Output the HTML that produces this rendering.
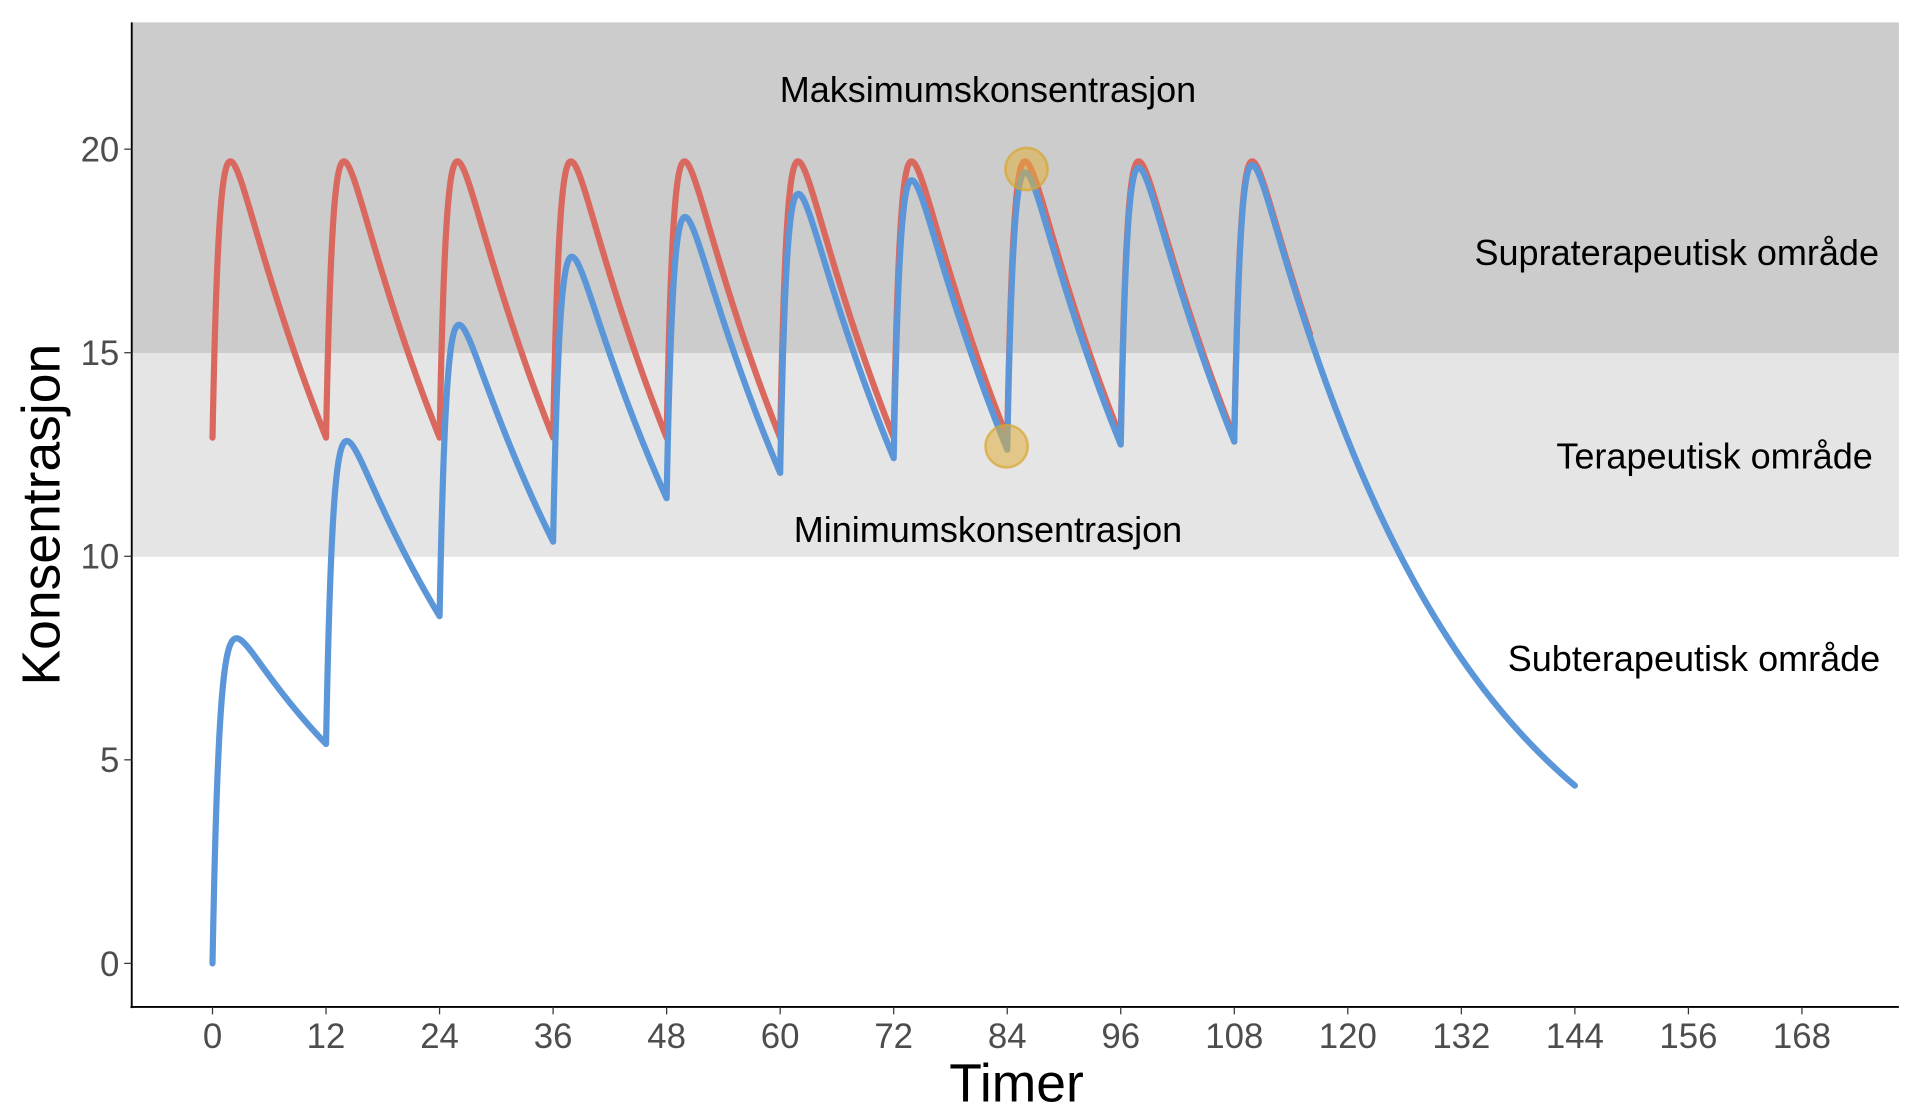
<!DOCTYPE html>
<html><head><meta charset="utf-8"><style>html,body{margin:0;padding:0;background:#fff;}svg{display:block}</style></head>
<body>
<svg id="s" width="1920" height="1120" viewBox="0 0 1545 901" preserveAspectRatio="none" xmlns="http://www.w3.org/2000/svg" font-family="Liberation Sans, sans-serif">
<rect x="0" y="0" width="1545" height="901" fill="#fff"/>
<rect x="106" y="18" width="1422" height="266" fill="#cccccc"/>
<rect x="106" y="284" width="1422" height="164" fill="#e5e5e5"/>
<g id="curves"></g>
<circle cx="826" cy="136" r="17" fill="rgba(225,175,60,0.55)" stroke="rgba(215,165,50,0.7)" stroke-width="2"/>
<circle cx="810" cy="359" r="17" fill="rgba(225,175,60,0.55)" stroke="rgba(215,165,50,0.7)" stroke-width="2"/>
<line x1="106" y1="18" x2="106" y2="811" stroke="#000" stroke-width="1.5"/>
<line x1="105" y1="810" x2="1528" y2="810" stroke="#000" stroke-width="1.5"/>
<g font-size="29" fill="#000">
<text x="795" y="82" text-anchor="middle">Maksimumskonsentrasjon</text>
<text x="795" y="436" text-anchor="middle">Minimumskonsentrasjon</text>
<text x="1512" y="213" text-anchor="end">Supraterapeutisk område</text>
<text x="1507" y="377" text-anchor="end">Terapeutisk område</text>
<text x="1513" y="540" text-anchor="end">Subterapeutisk område</text>
</g>
<g id="ticks" font-size="28" fill="#4d4d4d"></g>
<text x="818" y="886" text-anchor="middle" font-size="43">Timer</text>
<text transform="translate(48,414) rotate(-90)" text-anchor="middle" font-size="43">Konsentrasjon</text>
</svg>
<script>
(function(){
var NS="http://www.w3.org/2000/svg";
function X(t){return 171+t*(1279/168);}
function Y(c){return 775-c*32.75;}
var k=0.045,ka=1.4;
function f(dt){return dt<0?0:Math.exp(-k*dt)-Math.exp(-ka*dt);}
function conc(t,ss){var s=0;for(var d=0;d<=108;d+=12)s+=f(t-d);if(ss){for(var d=-12;d>=-600;d-=12)s+=f(t-d);}return s;}
var pk=0;for(var t=0;t<12;t+=0.05)pk=Math.max(pk,conc(t,true));
var D=19.7/pk;
function path(ss,tend){var p="";for(var t=0;t<=tend+1e-9;t+=0.05){var c=D*conc(t,ss);p+=(p?"L":"M")+X(t).toFixed(2)+","+Y(c).toFixed(2);}return p;}
var g=document.getElementById("curves");
function add(d,col){var e=document.createElementNS(NS,"path");e.setAttribute("d",d);e.setAttribute("fill","none");e.setAttribute("stroke",col);e.setAttribute("stroke-width","5");e.setAttribute("stroke-linejoin","round");e.setAttribute("stroke-linecap","round");g.appendChild(e);}
add(path(true,116),"#d9695f");
add(path(false,144),"#5b97d8");
var tg=document.getElementById("ticks");
for(var i=0;i<=14;i++){var t=i*12,x=X(t);
var l=document.createElementNS(NS,"line");l.setAttribute("x1",x);l.setAttribute("x2",x);l.setAttribute("y1",810);l.setAttribute("y2",816);l.setAttribute("stroke","#333");tg.appendChild(l);
var tx=document.createElementNS(NS,"text");tx.setAttribute("x",x);tx.setAttribute("y",843);tx.setAttribute("text-anchor","middle");tx.textContent=t;tg.appendChild(tx);}
for(var v=0;v<=20;v+=5){var y=Y(v);
var l=document.createElementNS(NS,"line");l.setAttribute("x1",100);l.setAttribute("x2",106);l.setAttribute("y1",y);l.setAttribute("y2",y);l.setAttribute("stroke","#333");tg.appendChild(l);
var tx=document.createElementNS(NS,"text");tx.setAttribute("x",96);tx.setAttribute("y",y+10);tx.setAttribute("text-anchor","end");tx.textContent=v;tg.appendChild(tx);}
})();
</script>
</body></html>
